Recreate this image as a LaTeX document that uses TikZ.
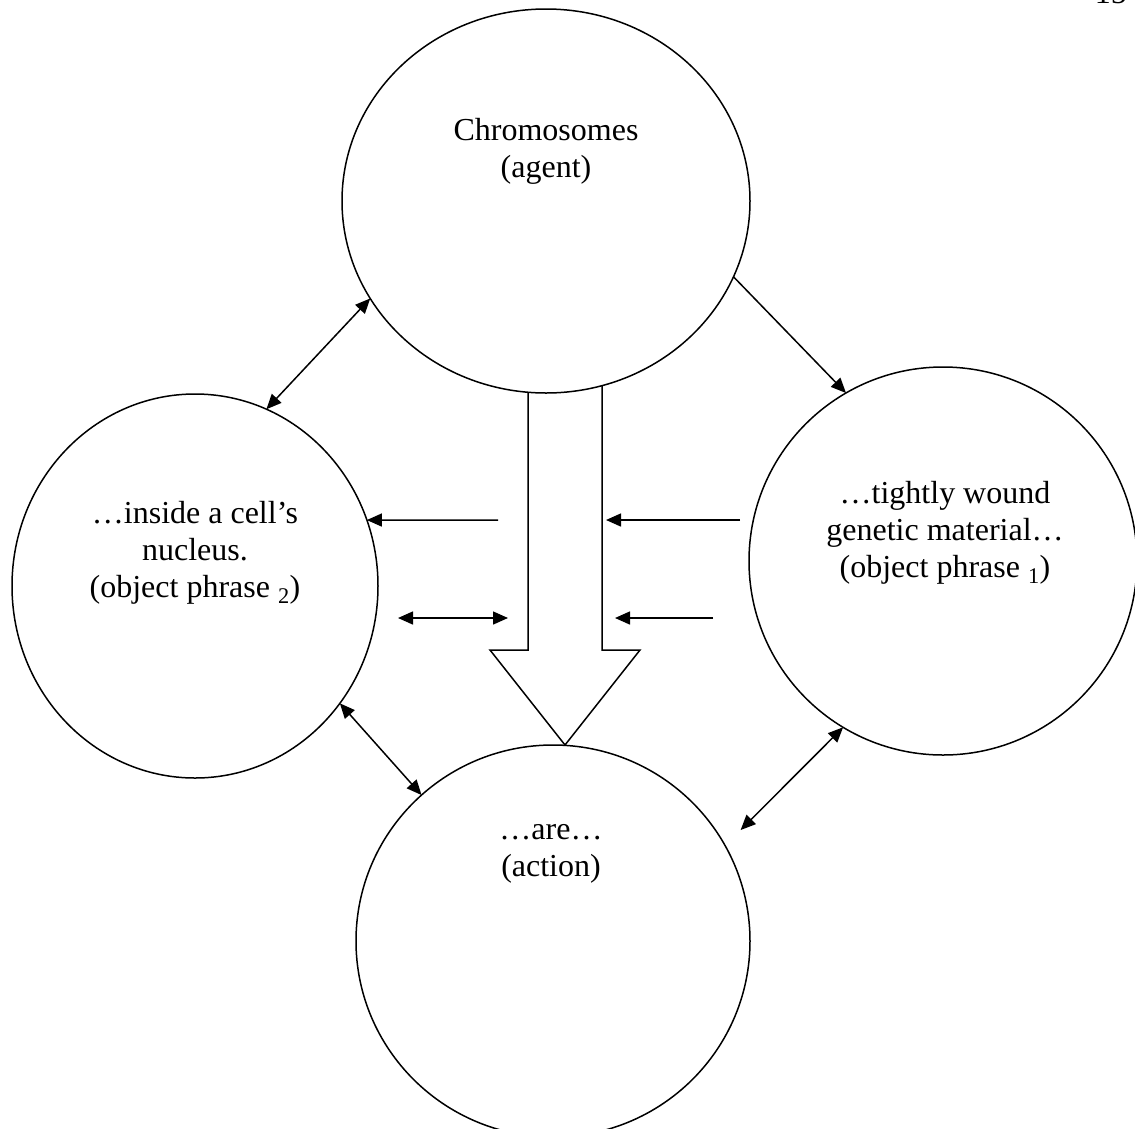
\documentclass[tikz,border=0pt]{standalone}
\usepackage{fontspec}
\setmainfont{Liberation Serif}
\usetikzlibrary{shapes.geometric,arrows.meta}
\begin{document}
\begin{tikzpicture}[x=1pt,y=-1pt,
  bubble/.style={draw, ellipse, line width=1.5pt, inner sep=0pt, outer sep=0pt},
  caption/.style={align=center, inner sep=0pt, anchor=base, font=\fontsize{32}{37}\selectfont},
  link/.style={line width=1.5pt, -{Triangle[length=15pt,width=13pt]}},
  both/.style={line width=1.5pt, {Triangle[length=15pt,width=13pt]}-{Triangle[length=15pt,width=13pt]}},
  blockarrow/.style={line width=1.5pt, line join=miter},
  ]
\useasboundingbox (0,0) rectangle (1135,1128);

% page number, cut by the top edge
\node[font=\fontsize{32}{37}\selectfont, anchor=base east, inner sep=0pt] (pagenum) at (1127,3) {15};

% the four bubbles
\node[bubble, minimum width=408pt, minimum height=384pt] (agent)  at (546,201) {};
\node[bubble, minimum width=366pt, minimum height=384pt] (obj2)   at (195,586) {};
\node[bubble, minimum width=388pt, minimum height=388pt] (obj1)   at (943,561) {};
\node[bubble, minimum width=394pt, minimum height=392pt] (action) at (553,941) {};

% their texts (anchored on the baseline of the last line)
\node[caption] (agenttext)  at (546,177) {Chromosomes\\(agent)};
\node[caption] (obj2text)   at (195,597) {\dots inside a cell’s\\nucleus.\\(object phrase \textsubscript{2})};
\node[caption] (obj1text)   at (945,577) {\dots tightly wound\\genetic material\dots\\(object phrase \textsubscript{1})};
\node[caption] (actiontext) at (551,876) {\dots are\dots\\(action)};

% hollow block arrow from agent down to action
\coordinate (shaftL) at (528,392);
\coordinate (shaftR) at (602,386);
\draw[blockarrow] (shaftL) -- (528,650) -- (490,650) -- (565,745) -- (640,650) -- (602,650) -- (shaftR);

% connectors between the bubbles
\draw[link] (agent.-22.3) -- (obj1.120.9);
\draw[both] (agent.-151.5) -- (obj2.68.3);
\draw[both] (obj2.-39.5) -- (action.132.4);
\draw[both, shorten >=22pt] (obj1.-121.8) -- (action.29.7);

% horizontal arrows beside the block arrow
\coordinate (hl1) at (498,520);
\draw[link] (hl1) -- (obj2.21);
\coordinate (hl2a) at (398,618);
\coordinate (hl2b) at (508,618);
\draw[both] (hl2a) -- (hl2b);
\coordinate (hr1a) at (740,520);
\coordinate (hr1b) at (606,520);
\draw[link] (hr1a) -- (hr1b);
\coordinate (hr2a) at (713,618);
\coordinate (hr2b) at (615,618);
\draw[link] (hr2a) -- (hr2b);
\end{tikzpicture}
\end{document}
